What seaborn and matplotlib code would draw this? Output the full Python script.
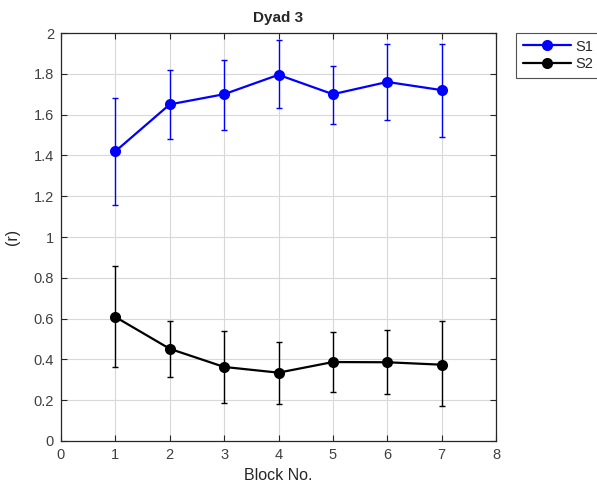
import matplotlib
matplotlib.use("Agg")
import matplotlib.pyplot as plt
import seaborn as sns
import numpy as np
import pandas as pd

blocks = [1, 2, 3, 4, 5, 6, 7]

s1_mean = [1.42, 1.65, 1.70, 1.795, 1.70, 1.76, 1.72]
s1_upper = [1.683, 1.817, 1.869, 1.964, 1.840, 1.948, 1.948]
s1_lower = [1.158, 1.480, 1.526, 1.631, 1.554, 1.574, 1.492]

s2_mean = [0.608, 0.452, 0.363, 0.335, 0.387, 0.386, 0.374]
s2_upper = [0.856, 0.587, 0.541, 0.487, 0.534, 0.546, 0.587]
s2_lower = [0.364, 0.312, 0.188, 0.183, 0.240, 0.230, 0.173]

series_names = ["S1", "S2"]
series_colors = ["#0000ff", "#000000"]

sns.set_style("white")
plt.rcParams["font.family"] = ["Liberation Sans", "DejaVu Sans"]

df = pd.DataFrame({
    "Block": blocks * 2,
    "r": s1_mean + s2_mean,
    "Subject": ["S1"] * len(blocks) + ["S2"] * len(blocks),
})

fig = plt.figure(figsize=(5.97, 4.93), dpi=100)
ax = fig.add_axes([61 / 597, 52 / 493, 435 / 597, 408 / 493])

sns.lineplot(data=df, x="Block", y="r", hue="Subject", hue_order=series_names,
             palette=series_colors, marker="o", markersize=8, markeredgewidth=0,
             linewidth=1.6, ax=ax, legend=True)

for mean, lo, up, col in [(s1_mean, s1_lower, s1_upper, series_colors[0]),
                          (s2_mean, s2_lower, s2_upper, series_colors[1])]:
    m = np.array(mean)
    yerr = np.vstack([m - np.array(lo), np.array(up) - m])
    ax.errorbar(blocks, m, yerr=yerr, fmt="none", ecolor=col, elinewidth=1.0,
                capsize=2.5, capthick=1.0, zorder=1)

ax.set_xlim(0, 8)
ax.set_ylim(0, 2)
ax.set_xticks(range(0, 9))
ax.set_yticks(np.arange(0, 2.01, 0.2))
ax.set_yticklabels(["0", "0.2", "0.4", "0.6", "0.8", "1", "1.2", "1.4", "1.6", "1.8", "2"])
ax.grid(True, color="#d8d8d8", linewidth=0.8)
ax.set_axisbelow(True)
ax.tick_params(axis="both", direction="in", length=4, width=0.8, colors="#262626",
               labelcolor="#404040", labelsize=10.5, top=True, right=True,
               bottom=True, left=True, pad=5)
for s in ax.spines.values():
    s.set_color("#262626")
    s.set_linewidth(0.9)

ax.set_title("Dyad 3", fontsize=11, fontweight="bold", pad=8)
ax.set_xlabel("Block No.", fontsize=11.5, color="#262626", labelpad=4)
ax.set_ylabel("(r)", fontsize=11.5, color="#262626", labelpad=10)

handles, labels = ax.get_legend_handles_labels()
leg = ax.legend(handles, labels, loc="upper left",
                bbox_to_anchor=(516 / 597, 1 - 33 / 493), bbox_transform=fig.transFigure,
                frameon=True, fancybox=False, edgecolor="#262626", fontsize=10.5,
                handlelength=3.3, borderaxespad=0, borderpad=0.45, labelspacing=0.25,
                handletextpad=0.3)
leg.get_frame().set_linewidth(0.8)

fig.savefig("out.png", dpi=100)
